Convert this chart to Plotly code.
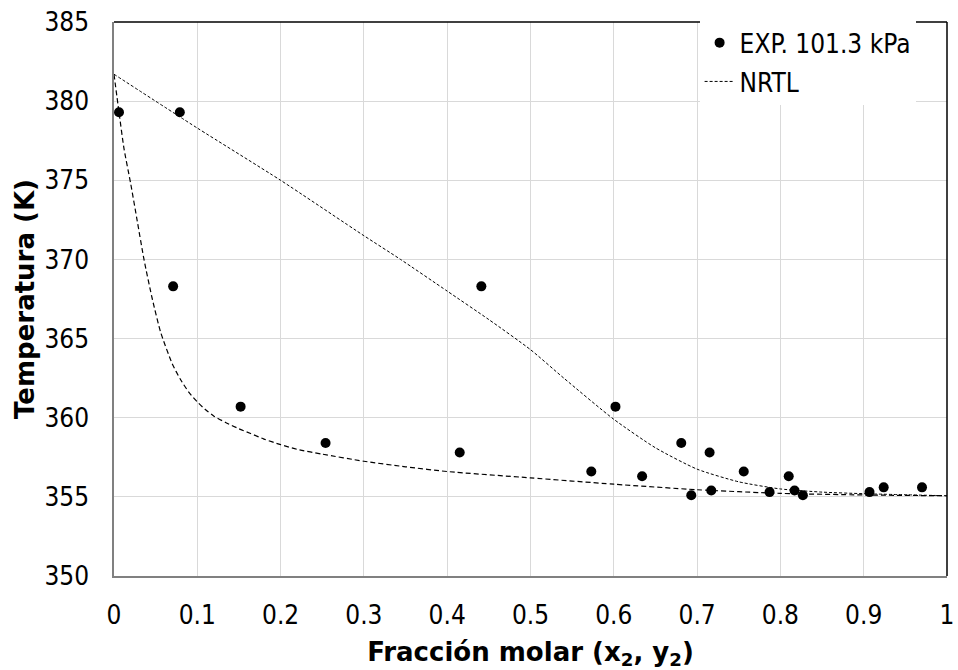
import plotly.graph_objects as go

# Experimental T-x-y data at 101.3 kPa (liquid x2 and vapour y2 share each temperature)
exp_x = [0.006, 0.079, 0.071, 0.441, 0.152, 0.602, 0.254, 0.681, 0.415, 0.715,
         0.573, 0.756, 0.634, 0.810, 0.717, 0.817, 0.693, 0.827, 0.787, 0.907,
         0.924, 0.970]
exp_T = [379.3, 379.3, 368.3, 368.3, 360.7, 360.7, 358.4, 358.4, 357.8, 357.8,
         356.6, 356.6, 356.3, 356.3, 355.4, 355.4, 355.1, 355.1, 355.3, 355.3,
         355.6, 355.6]

# NRTL bubble curve (T vs x2)
nrtl_bub_x = [0, 0.006, 0.012, 0.02, 0.028, 0.036, 0.046, 0.056, 0.07, 0.08,
              0.09, 0.1, 0.11, 0.12, 0.134, 0.15, 0.164, 0.18, 0.2, 0.22, 0.25,
              0.3, 0.35, 0.4, 0.5, 0.6, 0.7, 0.8, 0.9, 1.0]
nrtl_bub_T = [381.7, 379.3, 377.0, 374.8, 372.4, 370.0, 367.5, 365.4, 363.4, 362.4,
              361.6, 361.0, 360.5, 360.1, 359.7, 359.3, 359.0, 358.65, 358.3, 358.0,
              357.7, 357.25, 356.9, 356.6, 356.2, 355.8, 355.45, 355.22, 355.12, 355.07]

# NRTL dew curve (T vs y2)
nrtl_dew_y = [0, 0.1, 0.2, 0.3, 0.344, 0.4, 0.45, 0.5, 0.54, 0.6, 0.65, 0.7,
              0.75, 0.8, 0.85, 0.9, 1.0]
nrtl_dew_T = [381.7, 378.3, 375.0, 371.5, 370.0, 368.0, 366.2, 364.3, 362.5, 359.9,
              358.1, 356.75, 355.95, 355.5, 355.3, 355.2, 355.07]

x_ticks = [0, 0.1, 0.2, 0.3, 0.4, 0.5, 0.6, 0.7, 0.8, 0.9, 1]
x_tick_text = ["0", "0.1", "0.2", "0.3", "0.4", "0.5", "0.6", "0.7", "0.8", "0.9", "1"]
y_ticks = [350, 355, 360, 365, 370, 375, 380, 385]

FONT = "Tahoma, 'DejaVu Sans Condensed', 'DejaVu Sans', sans-serif"
TITLE_FONT = "Tahoma, 'DejaVu Sans', sans-serif"

fig = go.Figure()

fig.add_trace(go.Scatter(
    x=exp_x, y=exp_T, mode="markers", name="EXP. 101.3 kPa",
    marker=dict(color="black", size=10),
    legendgroup="exp",
))
fig.add_trace(go.Scatter(
    x=nrtl_dew_y, y=nrtl_dew_T, mode="lines", name="NRTL",
    line=dict(color="black", width=1, dash="3px,2px", shape="spline", smoothing=0.6),
    legendgroup="nrtl",
))
fig.add_trace(go.Scatter(
    x=nrtl_bub_x, y=nrtl_bub_T, mode="lines", name="NRTL",
    line=dict(color="black", width=1.2, dash="5px,3px", shape="spline", smoothing=0.6),
    legendgroup="nrtl", showlegend=False,
))

# Dark frame on top and right edges of the plot area
fig.add_shape(type="line", xref="x domain", yref="y domain", x0=0, x1=1, y0=1, y1=1,
              line=dict(color="black", width=1.5))
fig.add_shape(type="line", xref="x domain", yref="y domain", x0=1, x1=1, y0=0, y1=1,
              line=dict(color="black", width=1.5))

fig.update_layout(
    width=958, height=670,
    margin=dict(l=114, r=11, t=22, b=94, autoexpand=False),
    paper_bgcolor="white", plot_bgcolor="white",
    font=dict(family=FONT, size=26, color="black"),
    showlegend=True,
    legend=dict(
        x=0.703, y=1.005, xanchor="left", yanchor="top",
        bgcolor="white", borderwidth=0,
        font=dict(family=FONT, size=26, color="black"),
        tracegroupgap=2, itemwidth=30,
    ),
    xaxis=dict(
        range=[0, 1], tickvals=x_ticks, ticktext=x_tick_text,
        showgrid=True, gridcolor="#d9d9d9", gridwidth=1,
        showline=True, linecolor="#808080", linewidth=1.5,
        ticks="", zeroline=False, automargin=False,
        ticklabelstandoff=15,
        tickfont=dict(family=FONT, size=26),
        title=dict(text="<b>Fracción molar (x<sub>2</sub>, y<sub>2</sub>)</b>",
                   font=dict(family=TITLE_FONT, size=26), standoff=16),
    ),
    yaxis=dict(
        range=[350, 385], tickvals=y_ticks,
        showgrid=True, gridcolor="#d9d9d9", gridwidth=1,
        showline=True, linecolor="#808080", linewidth=1.5,
        ticks="", zeroline=False, automargin=False,
        ticklabelstandoff=18,
        tickfont=dict(family=FONT, size=26),
        title=dict(text="<b>Temperatura (K)</b>",
                   font=dict(family=TITLE_FONT, size=26), standoff=2),
    ),
)

fig.write_html("out.html")
